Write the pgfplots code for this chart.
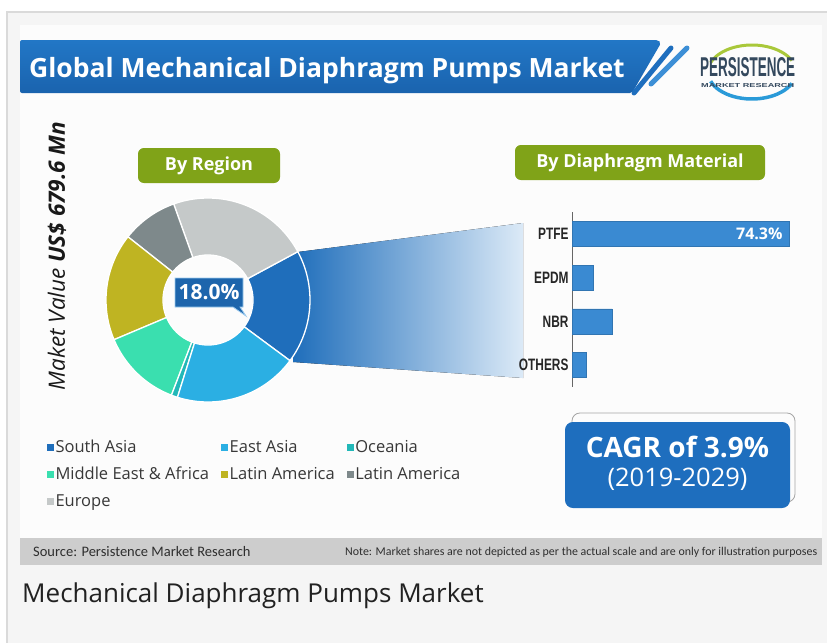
\documentclass[border=0pt]{standalone}
\usepackage{fontspec}
\setmainfont{Open Sans}
\newfontfamily\carlito{Carlito}
\newfontfamily\libsans{Liberation Sans}
\usepackage{pgfplots}
\pgfplotsset{compat=1.18}
\usepackage{graphicx}

\definecolor{southasia}{HTML}{1F6EBB}
\definecolor{eastasia}{HTML}{2BAFE3}
\definecolor{oceania}{HTML}{22B8B8}
\definecolor{mea}{HTML}{3ADFAF}
\definecolor{latolive}{HTML}{BFB422}
\definecolor{latgray}{HTML}{7E898B}
\definecolor{europe}{HTML}{C5C9C9}
\definecolor{bannertop}{HTML}{2277C6}
\definecolor{bannerbot}{HTML}{1A63AE}
\definecolor{bannerblue}{HTML}{1E6EBE}
\definecolor{slashlight}{HTML}{3D8FD6}
\definecolor{boxgreen}{HTML}{80A318}
\definecolor{barblue}{HTML}{3A8AD2}
\definecolor{pagegray}{HTML}{F5F5F5}
\definecolor{framegray}{HTML}{DADADA}
\definecolor{sourcegray}{HTML}{CDCDCD}
\definecolor{logotext}{HTML}{34495E}
\definecolor{logogreen}{HTML}{A9C83A}
\definecolor{logoblue}{HTML}{2A9AD8}
\definecolor{textgray}{HTML}{383838}
\definecolor{axisgray}{HTML}{666666}
\definecolor{funnelend}{HTML}{DCEAF7}
\definecolor{bubbleedge}{HTML}{9CCBEF}

\newcommand{\fs}[1]{\fontsize{#1bp}{#1bp}\selectfont}

\begin{document}
\begin{tikzpicture}

% ---------- background and frame ----------
\begin{scope}[x=1bp,y=-1bp]
\fill[white] (0,0) rectangle (827,643);
\fill[pagegray] (7,12) rectangle (827,643);
\draw[framegray, line width=1.5] (7,643) -- (7,12) -- (827,12);
\fill[white!99!black] (20,25) rectangle (822,538);
\fill[sourcegray] (20,538) rectangle (822,565);

% title banner
\shade[top color=bannertop, bottom color=bannerbot, rounded corners=2]
  (20,40) -- (658,40) -- (661,43) -- (632,93) -- (20,93) -- cycle;
\node[anchor=base west, inner sep=0, text=white, font=\bfseries\fs{26.5}] at (29,77)
  {Global Mechanical Diaphragm Pumps Market};
\draw[bannerblue, line width=5, line cap=round] (634,93) -- (671,48);
\draw[slashlight, line width=5, line cap=round] (651,84) -- (687,48);

% logo
\draw[logogreen, line width=3] ([shift={(200:44 and 27)}]752,72) arc[start angle=200, end angle=335, x radius=44, y radius=27];
\draw[logoblue, line width=3.5] ([shift={(25:44 and 27)}]752,72) arc[start angle=25, end angle=160, x radius=44, y radius=27];
\node[anchor=south west, inner sep=0, text=logotext] at (700,76.5) {\resizebox{95bp}{19bp}{\libsans\bfseries PERSISTENCE}};
\node[anchor=north west, inner sep=0, text=logotext] at (701,83.5) {\resizebox{93bp}{4bp}{\libsans\bfseries MARKET RESEARCH}};

% rotated market value label
\node[rotate=90, text=black!90, font=\itshape\fs{22.5}] at (57,256) {Maket Value \textbf{US\$ 679.6 Mn}};

% section boxes
\fill[boxgreen, rounded corners=6] (138,148) rectangle (280,183);
\node[text=white, font=\bfseries\fs{18}] at (209,165.5) {By Region};
\fill[boxgreen, rounded corners=6] (515,145) rectangle (765,180);
\node[text=white, font=\bfseries\fs{18}] at (640,162.5) {By Diaphragm Material};

% CAGR box
\draw[gray!70, line width=0.8, rounded corners=8] (572,413) rectangle (795,502);
\fill[bannerblue, rounded corners=8] (565,422) rectangle (790,508);
\node[anchor=base, text=white, font=\bfseries\fs{28}] at (677.5,457) {CAGR of 3.9\%};
\node[anchor=base, text=white, font=\fs{25.5}] at (677.5,486) {(2019-2029)};

% source bar
\node[anchor=base west, inner sep=0, text=black!82, font=\carlito\fs{14.5}] at (33,556.5) {Source: Persistence Market Research};
\node[anchor=base west, inner sep=0, text=black!82] at (345,555) {\resizebox{472bp}{!}{\carlito\fs{11}Note: Market shares are not depicted as per the actual scale and are only for illustration purposes}};

% caption
\node[anchor=base west, inner sep=0, text=black!87, font=\fs{26}] at (22,602) {Mechanical Diaphragm Pumps Market};
\end{scope}

% ---------- donut chart (by region) ----------
\begin{axis}[
  at={(208bp,-300bp)}, anchor=center,
  x=1bp, y=1bp, xmin=-110, xmax=110, ymin=-110, ymax=110,
  hide axis, clip=false,
  legend columns=3,
  legend cell align=left,
  legend image code/.code={\path[#1] (0bp,-3.5bp) rectangle (7bp,3.5bp);},
  legend style={at={(-0.2318,-0.1068)}, anchor=north west, draw=none, fill=none,
    inner sep=0pt, outer sep=0pt, font=\fs{16.5}, text=textgray,
    /tikz/every odd column/.append style={column sep=1.5bp},
    /tikz/every even column/.append style={column sep=12bp},
    nodes={inner sep=0pt, minimum height=27bp}},
]
\addlegendimage{fill=southasia, draw=none}
\addlegendentry{South Asia}
\addlegendimage{fill=eastasia, draw=none}
\addlegendentry{East Asia}
\addlegendimage{fill=oceania, draw=none}
\addlegendentry{Oceania}
\addlegendimage{fill=mea, draw=none}
\addlegendentry{Middle East \& Africa}
\addlegendimage{fill=latolive, draw=none}
\addlegendentry{Latin America}
\addlegendimage{fill=latgray, draw=none}
\addlegendentry{Latin America}
\addlegendimage{fill=europe, draw=none}
\addlegendentry{Europe}

% funnel from the South Asia slice to the bar chart
\fill[left color=southasia, right color=funnelend]
  (axis cs:90,48) -- (axis cs:315,77) -- (axis cs:315,-78) -- (axis cs:85,-62) -- cycle;

% slices: share in percent, counterclockwise from -36.5 degrees
\gdef\angstart{-36.5}
\foreach \p/\c in {18.0/southasia, 22.6/europe, 8.9/latgray, 17.0/latolive, 12.8/mea, 1.0/oceania, 19.7/eastasia}{
  \pgfmathsetmacro{\angend}{\angstart+3.6*\p}
  \edef\doslice{\noexpand\fill[\c, draw=white, line width=1.3bp]
    ([shift={(\angstart:102bp)}]axis cs:0,0) arc[start angle=\angstart, end angle=\angend, radius=102bp]
    -- ([shift={(\angend:45bp)}]axis cs:0,0) arc[start angle=\angend, end angle=\angstart, radius=45bp] -- cycle;}
  \doslice
  \xdef\angstart{\angend}
}
\end{axis}

% ---------- bar chart (by diaphragm material) ----------
\begin{axis}[
  at={(572bp,-212bp)}, anchor=north west,
  x=2.92bp, y=43.75bp, xmin=0, xmax=80, ymin=-0.5, ymax=3.5, y dir=reverse,
  xbar, bar width=25bp,
  hide x axis, axis y line*=left,
  y axis line style={draw=axisgray, line width=1bp},
  ytick={0,1,2,3},
  yticklabels={\scalebox{0.72}[1]{PTFE},\scalebox{0.72}[1]{EPDM},\scalebox{0.72}[1]{NBR},\scalebox{0.72}[1]{OTHERS}},
  major tick length=0pt,
  yticklabel style={font=\libsans\bfseries\fs{16.5}, text=black!85},
  clip=false,
]
\addplot[fill=barblue, draw=barblue!85!black, line width=0.5bp] coordinates {(74.3,0) (7.2,1) (13.7,2) (4.8,3)};
\node[anchor=east, text=white, font=\bfseries\fs{16}] at (axis cs:73.3,0) {74.3\%};
\end{axis}

% ---------- 18.0% bubble ----------
\begin{scope}[x=1bp,y=-1bp]
\fill[southasia!92!black, draw=bubbleedge, line width=0.8]
  (175,278) -- (243,278) -- (243,307) -- (240,307) -- (246,316) -- (233,307) -- (175,307) -- cycle;
\node[text=white, font=\bfseries\fs{21}] at (209,292.5) {18.0\%};
\end{scope}

\pgfresetboundingbox
\path[use as bounding box] (0,0) rectangle (827bp,-643bp);
\end{tikzpicture}
\end{document}
